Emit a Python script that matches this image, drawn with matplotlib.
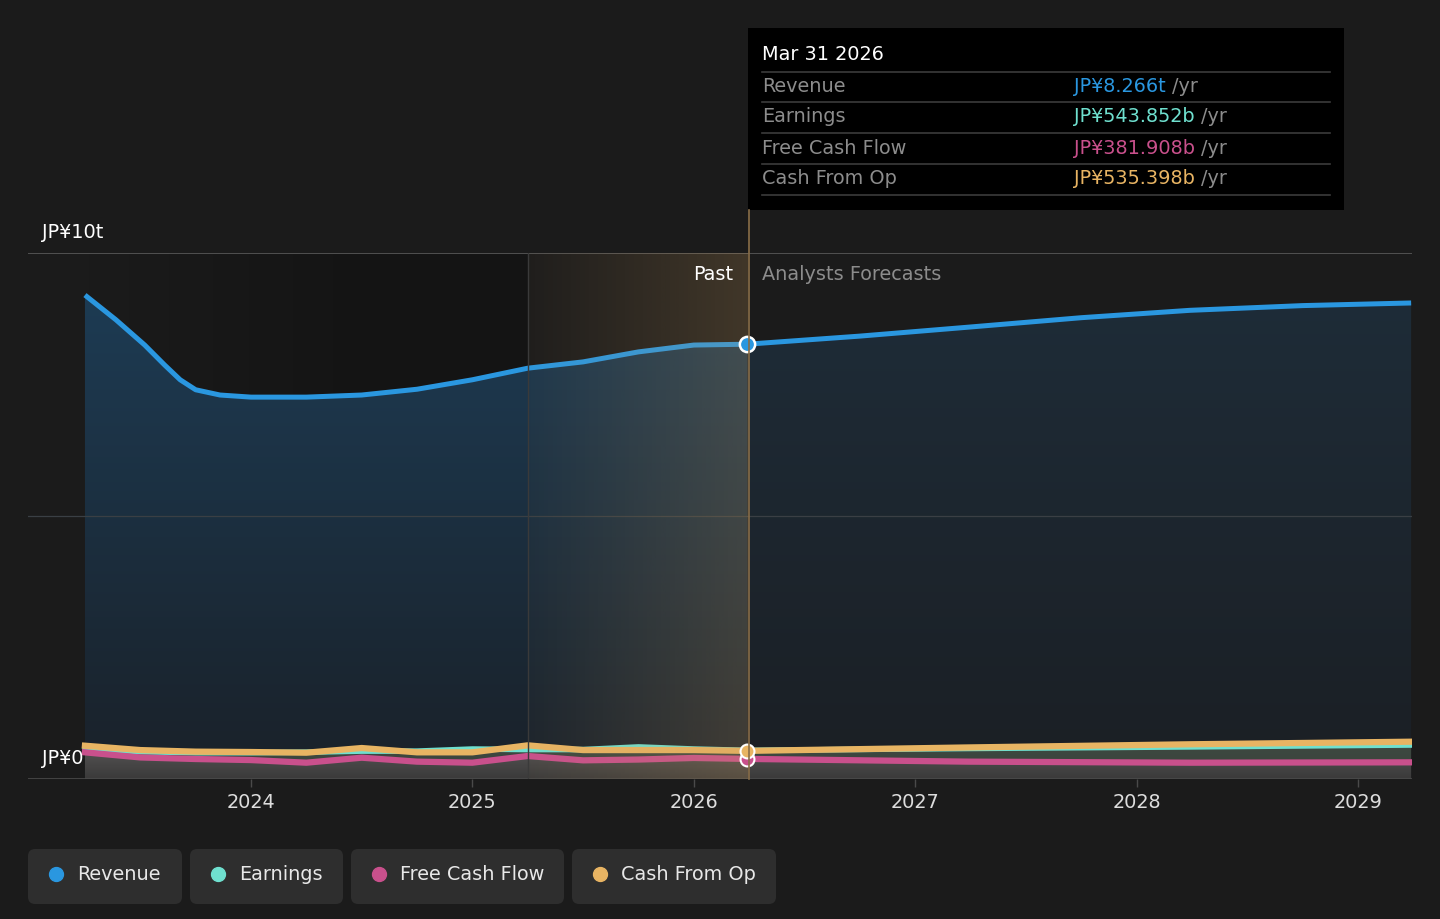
import matplotlib

matplotlib.use("Agg")
import matplotlib.pyplot as plt
import numpy as np
from matplotlib.patches import FancyBboxPatch, Rectangle

plt.rcParams["font.family"] = ["DejaVu Sans"]

# data, values in JP¥ trillion, x in fractional years
rev_x = [2023.25, 2023.39, 2023.52, 2023.61, 2023.68, 2023.75, 2023.86, 2024.0, 2024.25,
         2024.5, 2024.75, 2025.0, 2025.25, 2025.5, 2025.75, 2026.0, 2026.24,
         2026.75, 2027.24, 2027.75, 2028.24, 2028.75, 2029.24]
revenue = [9.20, 8.73, 8.25, 7.87, 7.59, 7.40, 7.30, 7.26, 7.26,
           7.30, 7.41, 7.59, 7.81, 7.93, 8.12, 8.25, 8.266,
           8.42, 8.59, 8.77, 8.91, 9.00, 9.05]

past_x = [2023.25, 2023.5, 2023.75, 2024.0, 2024.25, 2024.5, 2024.75, 2025.0, 2025.25,
          2025.5, 2025.75, 2026.0, 2026.24]
fore_x = [2026.24, 2027.24, 2028.24, 2029.24]

earnings_past = [0.58, 0.52, 0.50, 0.50, 0.51, 0.53, 0.53, 0.57, 0.56, 0.56, 0.61, 0.57, 0.544]
earnings_fore = [0.544, 0.58, 0.61, 0.646]
fcf_past = [0.507, 0.41, 0.38, 0.36, 0.31, 0.405, 0.33, 0.31, 0.437, 0.355, 0.37, 0.40, 0.382]
fcf_fore = [0.382, 0.33, 0.31, 0.317]
cfo_past = [0.633, 0.55, 0.52, 0.513, 0.50, 0.589, 0.507, 0.507, 0.64, 0.55, 0.55, 0.55, 0.535]
cfo_fore = [0.535, 0.60, 0.66, 0.709]

year_ticks = [2024, 2025, 2026, 2027, 2028, 2029]
series_names = ["Revenue", "Earnings", "Free Cash Flow", "Cash From Op"]
tooltip_values = ["JP¥8.266t", "JP¥543.852b", "JP¥381.908b", "JP¥535.398b"]

BG = "#1b1b1b"
C_REV = "#2a97e0"
C_EARN = "#6fe0cf"
C_FCF = "#c9508c"
C_CFO = "#e8b463"
colors = [C_REV, C_EARN, C_FCF, C_CFO]
FS = 13.9
SPLIT = 2026.24

W, H = 1440, 919
fig = plt.figure(figsize=(W / 100, H / 100), dpi=100, facecolor=BG)


def fx(px):
    return px / W


def fy(py):
    return 1 - py / H


ax = fig.add_axes([fx(28), fy(779), fx(1412) - fx(28), fy(253) - fy(779)])
ax.set_facecolor(BG)
x0, x1 = 2024 - (251 - 28) / 221.4, 2029 + (1412 - 1358) / 221.4
ax.set_xlim(x0, x1)
ax.set_ylim(0, 10)
for s in ax.spines.values():
    s.set_visible(False)
ax.set_yticks([])


def gradient_fill(x, ylo, yhi, c_top, c_bot, ytop, z, xlim=None):
    poly = ax.fill_between(x, ylo, yhi, color="none", lw=0, zorder=z)
    top = np.array(matplotlib.colors.to_rgb(c_top))
    bot = np.array(matplotlib.colors.to_rgb(c_bot))
    t = np.linspace(0, 1, 100)[:, None]
    grad = np.ones((100, 1, 4))
    grad[:, 0, :3] = top * (1 - t) + bot * t
    ext = xlim if xlim else (x0, x1)
    im = ax.imshow(grad, extent=[ext[0], ext[1], 0, ytop], aspect="auto", origin="upper",
                   zorder=z, interpolation="bilinear")
    im.set_clip_path(poly.get_paths()[0], transform=ax.transData)


# darker past background
dark = np.zeros((1, 100, 4))
dark[0, :, 3] = np.clip(np.linspace(0, 1.6, 100), 0, 1) * 0.25
ax.imshow(dark, extent=[rev_x[0], 2025.25, 0, 10], aspect="auto", zorder=0)

# revenue area: brighter blue for history, muted for forecasts
gradient_fill(rev_x, 0, revenue, "#1d3b53", "#1a2129", 9.2, 1, xlim=(x0, SPLIT))
gradient_fill(rev_x, 0, revenue, "#1e2c38", "#1b1f24", 9.2, 1, xlim=(SPLIT, x1))
ax.plot(rev_x, revenue, color=C_REV, lw=3.6, solid_capstyle="butt", zorder=5)

# small series
small_x = past_x + fore_x[1:]
earn = earnings_past + earnings_fore[1:]
fcf = fcf_past + fcf_fore[1:]
cfo = cfo_past + cfo_fore[1:]
gradient_fill(small_x, fcf, cfo, "#3e4941", "#3a433c", 0.71, 2)
gradient_fill(small_x, 0, fcf, "#525050", "#3a3a3a", 0.5, 2)
ax.plot(small_x, earn, color=C_EARN, lw=4, zorder=6)
ax.plot(small_x, fcf, color=C_FCF, lw=4.5, zorder=6)
ax.plot(small_x, cfo, color=C_CFO, lw=4.5, zorder=7)

# highlighted last-year band
band = np.zeros((1, 100, 4))
band[0, :, :3] = matplotlib.colors.to_rgb("#c89a5a")
band[0, :, 3] = np.linspace(0.03, 0.22, 100)
ax.imshow(band, extent=[2025.25, SPLIT, 0, 10], aspect="auto", zorder=8)
ax.axvline(2025.25, color="#3a3a3a", lw=1, zorder=8)

# markers at the split date
ax.plot([SPLIT], [0.382], "o", ms=10, mfc=C_FCF, mec="white", mew=1.5, zorder=9)
ax.plot([SPLIT], [0.535], "o", ms=10, mfc=C_CFO, mec="white", mew=1.5, zorder=9)
ax.plot([SPLIT], [8.266], "o", ms=11, mfc=C_REV, mec="white", mew=1.8, zorder=10)

# gridlines and axis line
ax.axhline(10, color="#5a5a5a", lw=1.2, zorder=3)
ax.axhline(5, color="#3a3f44", lw=0.9, zorder=3)
ax.axhline(0, color="#4a4a4a", lw=1.2, zorder=3)

ax.set_xticks(year_ticks)
ax.set_xticklabels([str(y) for y in year_ticks])
ax.tick_params(axis="x", colors="#4a4a4a", labelcolor="#dddddd", labelsize=FS,
               length=6, width=1, pad=4)

# split line goes up to the tooltip
fig.add_artist(plt.Line2D([fx(748.5), fx(748.5)], [fy(779), fy(210)], color="#8a6e48", lw=1.2))

fig.text(fx(42), fy(232), "JP¥10t", color="#ffffff", fontsize=FS, va="center")
fig.text(fx(42), fy(758), "JP¥0", color="#ffffff", fontsize=FS, va="center")
fig.text(fx(733), fy(274), "Past", color="#ffffff", fontsize=FS, va="center", ha="right")
fig.text(fx(762), fy(274), "Analysts Forecasts", color="#8c8c8c", fontsize=FS, va="center")

# tooltip
fig.add_artist(Rectangle((fx(748), fy(210)), fx(1344) - fx(748), fy(28) - fy(210),
                         transform=fig.transFigure, facecolor="#000000", edgecolor="none"))
fig.text(fx(762), fy(55), "Mar 31 2026", color="#ffffff", fontsize=FS, va="center")
for py in [72, 102, 133, 164, 195]:
    fig.add_artist(plt.Line2D([fx(762), fx(1330)], [fy(py), fy(py)], color="#3c3c3c", lw=1.2))
fig.canvas.draw()
for i, (name, val) in enumerate(zip(series_names, tooltip_values)):
    py = [87, 117, 148, 178][i]
    fig.text(fx(762), fy(py), name, color="#8c8c8c", fontsize=FS, va="center")
    t = fig.text(fx(1074), fy(py), val, color=colors[i], fontsize=FS, va="center")
    bb = t.get_window_extent(renderer=fig.canvas.get_renderer())
    fig.text(bb.x1 / W + fx(6), fy(py), "/yr", color="#8c8c8c", fontsize=FS, va="center")

# legend buttons
buttons = [(28, 182), (190, 343), (351, 564), (572, 776)]
for (bx0, bx1), name, c in zip(buttons, series_names, colors):
    fig.add_artist(FancyBboxPatch((fx(bx0), fy(904)), fx(bx1 - bx0), fy(849) - fy(904),
                                  boxstyle="round,pad=0,rounding_size=0.005",
                                  transform=fig.transFigure, facecolor="#2e2e2e",
                                  edgecolor="none", mutation_aspect=W / H))
    fig.add_artist(plt.Line2D([fx(bx0 + 28)], [fy(874)], marker="o", ms=10, color=c, lw=0))
    fig.text(fx(bx0 + 49), fy(874), name, color="#e8e8e8", fontsize=FS, va="center")

fig.savefig("out.png", dpi=100, facecolor=BG)
